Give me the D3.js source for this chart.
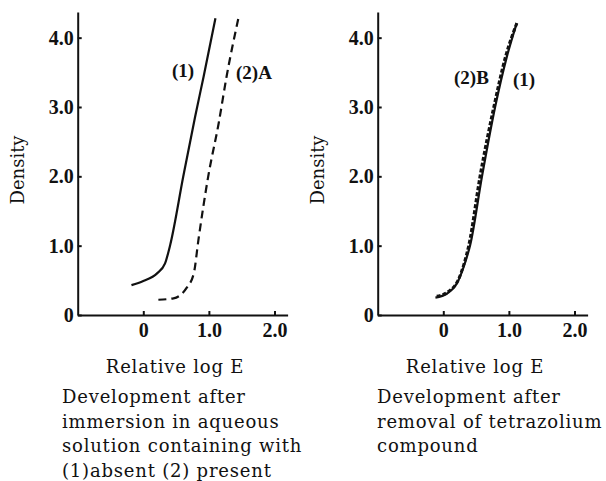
<!DOCTYPE html>
<html lang="en">
<head>
<meta charset="utf-8">
<title>Density vs relative log E</title>
<script src="https://d3js.org/d3.v7.min.js"></script>
<style>
  body { margin: 0; background: #fff; }
  svg text { fill: #111; }
  .tick text { font-family: "Liberation Serif", serif; font-weight: bold; font-size: 20px; }
  .axis path, .axis line { stroke: #111; stroke-width: 2; }
  .lab { font-family: "DejaVu Serif", serif; font-size: 18px; letter-spacing: 0.8px; }
  .ylab { font-family: "DejaVu Serif", serif; font-size: 18px; }
  .curve-lab { font-family: "Liberation Serif", serif; font-weight: bold; font-size: 19px; }
</style>
</head>
<body>
<script>
// values
var xTicks = [0, 1, 2];
var yTicks = [0, 1, 2, 3, 4];

// left panel: (1) absent, (2)A present
var leftX1 = [-0.18, 0.0, 0.21, 0.33, 0.41, 0.61, 0.79, 0.92, 1.10];
var leftY1 = [0.43, 0.49, 0.60, 0.74, 1.01, 2.0, 2.86, 3.44, 4.28];
var leftX2 = [0.23, 0.46, 0.66, 0.77, 0.84, 0.99, 1.15, 1.27, 1.45];
var leftY2 = [0.22, 0.24, 0.39, 0.60, 1.08, 2.0, 2.77, 3.44, 4.28];

// right panel: (1), (2)B
var rightX1 = [-0.12, 0.06, 0.21, 0.33, 0.41, 0.59, 0.79, 0.97, 1.12];
var rightY1 = [0.25, 0.31, 0.46, 0.75, 1.01, 2.0, 3.0, 3.73, 4.21];
var rightX2 = [-0.10, 0.08, 0.23, 0.32, 0.39, 0.56, 0.77, 0.95, 1.13];
var rightY2 = [0.27, 0.34, 0.51, 0.75, 1.01, 2.0, 3.0, 3.73, 4.23];

var leftCaption = ["Development after", "immersion in aqueous", "solution containing with", "(1)absent (2) present"];
var rightCaption = ["Development after", "removal of tetrazolium", "compound"];

var w = 606, h = 481;
var svg = d3.select("body").append("svg").attr("width", w).attr("height", h);

function zip(xs, ys) { return xs.map(function(x, i) { return {x: x, y: ys[i]}; }); }

function panel(off, s1, s2, dash2, width2, labels, caption) {
  var xScale = d3.scaleLinear().domain([-1, 2.2]).range([off + 77.7, off + 287.6]);
  var yScale = d3.scaleLinear().domain([0, 4.37]).range([315, 12]);

  var fmt = function(d) { return d === 0 ? "0" : d3.format(".1f")(d); };
  var xAxis = d3.axisBottom(xScale).tickValues(xTicks).tickSizeInner(-4).tickSizeOuter(0).tickPadding(8).tickFormat(fmt);
  var yAxis = d3.axisLeft(yScale).tickValues(yTicks).tickSizeInner(-4).tickSizeOuter(0).tickPadding(4).tickFormat(fmt);

  svg.append("g").attr("class", "axis").attr("transform", "translate(0,315)").call(xAxis);
  svg.append("g").attr("class", "axis").attr("transform", "translate(" + xScale(-1) + ",0)").call(yAxis);

  var line = d3.line().x(function(d) { return xScale(d.x); }).y(function(d) { return yScale(d.y); })
    .curve(d3.curveMonotoneX);

  svg.append("path").datum(s1).attr("d", line)
    .attr("fill", "none").attr("stroke", "#111").attr("stroke-width", 2.2);
  svg.append("path").datum(s2).attr("d", line)
    .attr("fill", "none").attr("stroke", "#111").attr("stroke-width", width2)
    .attr("stroke-dasharray", dash2);

  labels.forEach(function(l) {
    svg.append("text").attr("class", "curve-lab").attr("x", l[0]).attr("y", l[1]).text(l[2]);
  });

  svg.append("text").attr("class", "ylab")
    .attr("transform", "translate(" + (off + 24) + ",170) rotate(-90)")
    .attr("text-anchor", "middle").text("Density");

  svg.append("text").attr("class", "lab").attr("x", off + 175).attr("y", 373)
    .attr("text-anchor", "middle").text("Relative log E");

  caption.forEach(function(t, i) {
    svg.append("text").attr("class", "lab").attr("x", off + 62 + (off ? 15 : 0)).attr("y", 403 + i * 24.5).text(t);
  });
}

panel(0, zip(leftX1, leftY1), zip(leftX2, leftY2), "8,5", 2.2,
  [[172, 77, "(1)"], [236, 79, "(2)A"]], leftCaption);
panel(300, zip(rightX1, rightY1), zip(rightX2, rightY2), "4,2", 3,
  [[454, 84, "(2)B"], [513, 86, "(1)"]], rightCaption);
</script>
</body>
</html>
